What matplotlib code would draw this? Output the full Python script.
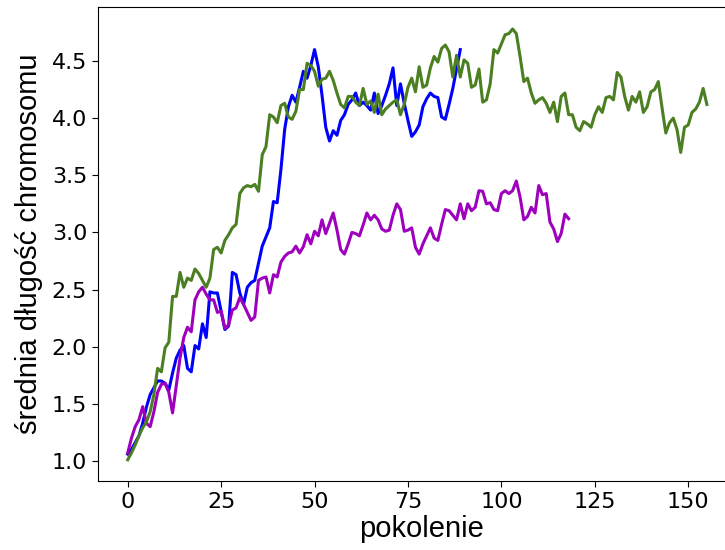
import matplotlib
matplotlib.use("Agg")
import matplotlib.pyplot as plt

# average chromosome length per generation, three runs
green_vals = [
    1.01, 1.07, 1.14, 1.22, 1.29, 1.34, 1.43, 1.58, 1.81, 1.78,
    1.99, 2.04, 2.44, 2.44, 2.65, 2.52, 2.60, 2.58, 2.68, 2.64,
    2.58, 2.52, 2.60, 2.85, 2.87, 2.82, 2.93, 2.98, 3.04, 3.07,
    3.34, 3.39, 3.41, 3.40, 3.42, 3.36, 3.68, 3.75, 4.03, 4.01,
    3.96, 4.11, 4.13, 4.01, 3.99, 4.06, 4.25, 4.25, 4.48, 4.46,
    4.41, 4.28, 4.34, 4.35, 4.41, 4.33, 4.22, 4.12, 4.09, 4.19,
    4.19, 4.14, 4.11, 4.26, 4.12, 4.15, 4.05, 4.21, 4.03, 4.08,
    4.11, 4.14, 4.16, 4.03, 4.12, 4.27, 4.35, 4.23, 4.45, 4.27,
    4.29, 4.44, 4.54, 4.49, 4.61, 4.64, 4.58, 4.36, 4.55, 4.36,
    4.51, 4.48, 4.27, 4.29, 4.43, 4.14, 4.16, 4.30, 4.60, 4.57,
    4.65, 4.73, 4.74, 4.78, 4.74, 4.54, 4.32, 4.35, 4.22, 4.13,
    4.16, 4.18, 4.13, 4.05, 4.14, 3.97, 4.19, 4.22, 4.03, 4.03,
    3.92, 3.89, 3.97, 3.95, 3.92, 4.03, 4.10, 4.05, 4.18, 4.19,
    4.16, 4.40, 4.36, 4.19, 4.07, 4.19, 4.14, 4.23, 4.05, 4.10,
    4.23, 4.25, 4.32, 4.09, 3.87, 3.96, 4.00, 3.90, 3.70, 3.92,
    3.94, 4.05, 4.08, 4.14, 4.26, 4.12,
]

blue_vals = [
    1.06, 1.10, 1.16, 1.22, 1.33, 1.47, 1.58, 1.64, 1.70, 1.70,
    1.68, 1.62, 1.77, 1.90, 1.97, 2.01, 1.81, 1.78, 2.01, 1.98,
    2.20, 2.08, 2.48, 2.47, 2.47, 2.31, 2.15, 2.18, 2.65, 2.63,
    2.47, 2.37, 2.52, 2.56, 2.58, 2.73, 2.88, 2.96, 3.04, 3.27,
    3.26, 3.55, 3.90, 4.10, 4.20, 4.14, 4.27, 4.41, 4.35, 4.46,
    4.60, 4.45, 4.20, 3.92, 3.80, 3.89, 3.85, 3.98, 4.03, 4.12,
    4.16, 4.22, 4.11, 4.14, 4.11, 4.07, 4.22, 4.04, 4.11, 4.20,
    4.30, 4.44, 4.11, 4.30, 4.13, 3.98, 3.84, 3.88, 3.94, 4.10,
    4.17, 4.22, 4.19, 4.18, 4.01, 3.99, 4.12, 4.26, 4.43, 4.60,
]

purple_vals = [
    1.07, 1.20, 1.30, 1.36, 1.475, 1.33, 1.30, 1.43, 1.60, 1.67,
    1.68, 1.60, 1.42, 1.66, 1.90, 2.08, 2.17, 2.13, 2.41, 2.48,
    2.52, 2.46, 2.41, 2.41, 2.30, 2.31, 2.16, 2.19, 2.32, 2.34,
    2.43, 2.37, 2.30, 2.23, 2.26, 2.58, 2.60, 2.61, 2.47, 2.63,
    2.61, 2.74, 2.79, 2.82, 2.83, 2.88, 2.82, 2.875, 2.98, 2.90,
    3.01, 2.97, 3.11, 2.99, 3.08, 3.17, 3.02, 2.85, 2.81, 2.90,
    3.00, 2.99, 2.97, 3.065, 3.17, 3.11, 3.15, 3.11, 3.03, 3.01,
    3.02, 3.15, 3.25, 3.20, 3.01, 3.02, 3.04, 2.87, 2.81, 2.90,
    2.97, 3.04, 2.95, 2.93, 3.07, 3.20, 3.19, 3.15, 3.11, 3.25,
    3.12, 3.25, 3.19, 3.22, 3.365, 3.36, 3.25, 3.26, 3.20, 3.19,
    3.34, 3.365, 3.34, 3.365, 3.45, 3.31, 3.11, 3.14, 3.22, 3.17,
    3.41, 3.33, 3.34, 3.09, 3.03, 2.92, 2.99, 3.16, 3.12,
]

x_ticks = [0, 25, 50, 75, 100, 125, 150]
y_ticks = [1.0, 1.5, 2.0, 2.5, 3.0, 3.5, 4.0, 4.5]

fig = plt.figure(figsize=(7.25, 5.5), dpi=100)
ax = fig.add_axes([0.1356, 0.126, 0.892, 0.8607])

lw = 2.2
ax.plot(range(len(blue_vals)), blue_vals, color="#0000ff", lw=lw)
ax.plot(range(len(purple_vals)), purple_vals, color="#9e00bd", lw=lw)
ax.plot(range(len(green_vals)), green_vals, color="#4b7f21", lw=lw)

ax.set_xlim(-7.87, 165.2)
ax.set_ylim(0.827, 4.97)
ax.set_xticks(x_ticks)
ax.set_yticks(y_ticks)
ax.set_yticklabels([f"{v:.1f}" for v in y_ticks])
ax.tick_params(labelsize=16, length=4.5)

label_font = dict(family="Liberation Sans", size=21)
ax.set_xlabel("pokolenie", fontdict=label_font, labelpad=2)
ax.set_ylabel("średnia długość chromosomu", fontdict=label_font, labelpad=6)

fig.savefig("out.png", dpi=100)
